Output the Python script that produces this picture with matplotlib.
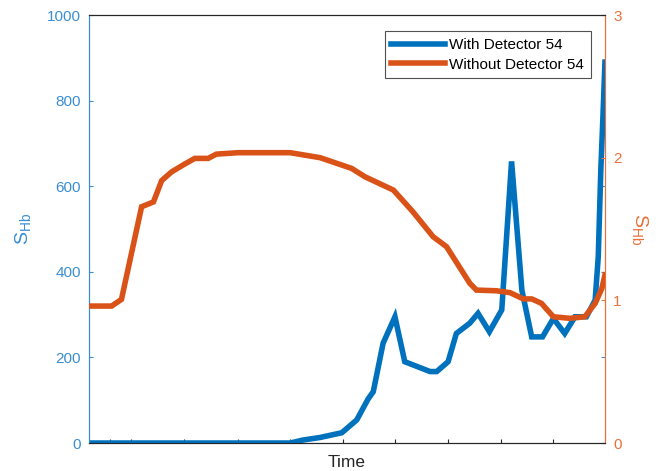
import numpy as np
import matplotlib.pyplot as plt

plt.rcParams['font.family'] = ['Liberation Sans', 'DejaVu Sans']
plt.rcParams['mathtext.fontset'] = 'custom'
plt.rcParams['mathtext.rm'] = 'Liberation Sans'
plt.rcParams['mathtext.it'] = 'Liberation Sans'

# time axis runs 0..100 (arbitrary units, no tick labels)
t_with = [0, 39.0, 41.5, 44.8, 49.0, 51.9, 54.1, 55.1, 57.0, 59.3, 61.2, 66.1, 67.4,
          69.6, 71.2, 73.8, 75.4, 77.6, 80.0, 81.9, 83.9, 85.8, 87.9, 90.0, 92.2,
          94.2, 96.4, 98.1, 98.7, 99.2, 99.6, 100]
s_with = [0, 0, 7, 13, 24, 54, 103, 120, 233, 295, 190, 167, 167,
          190, 256, 280, 303, 260, 311, 658, 357, 248, 248, 291, 256,
          295, 295, 334, 435, 640, 760, 890]

t_without = [0, 4.4, 6.3, 10.2, 12.5, 14.1, 16.0, 18.3, 20.5, 23.1, 24.7, 28.9, 39.0,
             44.8, 50.9, 53.5, 59.0, 62.8, 66.7, 69.3, 73.8, 75.1, 79.0, 81.6, 84.2,
             85.8, 87.7, 90.0, 93.2, 96.1, 98.1, 99.4, 100]
s_without = [0.96, 0.96, 1.007, 1.656, 1.69, 1.84, 1.90, 1.95, 1.995, 1.995, 2.025, 2.035, 2.035,
             2.0, 1.925, 1.866, 1.773, 1.62, 1.446, 1.376, 1.12, 1.072, 1.067, 1.054, 1.01,
             1.01, 0.979, 0.885, 0.874, 0.885, 0.979, 1.084, 1.178]

x_ticks = [4.1, 8.1, 18.4, 28.9, 39.0, 49.2, 59.3, 69.6, 79.8, 89.9]

blue = '#0072BD'
blue_ax = '#3A8DD2'
orange = '#D95319'
orange_ax = '#E8703A'

fig = plt.figure(figsize=(6.59, 4.71), dpi=100)
ax = fig.add_axes([0.135, 0.0594, 0.783, 0.9087])
ax2 = ax.twinx()

l1, = ax.plot(t_with, s_with, color=blue, lw=4, solid_joinstyle='miter', zorder=3)
l2, = ax2.plot(t_without, s_without, color=orange, lw=4, solid_joinstyle='miter', zorder=3)

ax.set_xlim(0, 100)
ax.set_ylim(0, 1000)
ax2.set_ylim(0, 3)
ax.set_yticks(range(0, 1001, 200))
ax2.set_yticks([0, 1, 2, 3])
ax.set_xticks(x_ticks)
ax.set_xticklabels([])

ax.tick_params(axis='y', direction='in', length=3, width=0.8, colors=blue_ax,
               labelsize=11, pad=6, right=True)
ax2.tick_params(axis='y', direction='in', length=3, width=0.8, colors=orange_ax,
                labelsize=11, pad=6)
ax.tick_params(axis='x', direction='in', length=3, width=0.8, color='#262626')

for a in (ax, ax2):
    a.spines['top'].set_color('#262626')
    a.spines['bottom'].set_color('#262626')
    a.spines['left'].set_color(blue_ax)
    a.spines['right'].set_color(orange_ax)
    for s in a.spines.values():
        s.set_linewidth(0.8)

ax.set_xlabel('Time', fontsize=12.5, color='#262626', labelpad=5)
ax.set_ylabel(r'$\mathrm{S}_{\mathrm{Hb}}$', fontsize=14, color=blue_ax, labelpad=10)
ax2.set_ylabel(r'$\mathrm{S}_{\mathrm{Hb}}$', fontsize=14, color=orange_ax, rotation=270,
               labelpad=20)

leg = ax2.legend([l1, l2], ['With Detector 54', 'Without Detector 54'],
                 loc='upper right', bbox_to_anchor=(0.972, 0.962), fontsize=11,
                 frameon=True, fancybox=False, handlelength=3.5, handletextpad=0.25,
                 borderpad=0.45, labelspacing=0.35, borderaxespad=0)
leg.get_frame().set_edgecolor('#262626')
leg.get_frame().set_linewidth(0.8)

fig.savefig('out.png', dpi=100)
